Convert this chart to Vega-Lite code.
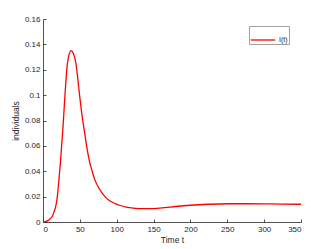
{
  "$schema": "https://vega.github.io/schema/vega-lite/v6.json",
  "autosize": {"type": "none"},
  "width": 258,
  "height": 203,
  "padding": {"left": 43, "top": 19, "right": 31, "bottom": 27},
  "background": "white",
  "config": {
    "view": {"stroke": null},
    "font": "Liberation Sans",
    "axis": {
      "domainColor": "#262626",
      "domainWidth": 0.8,
      "tickColor": "#262626",
      "tickWidth": 0.8,
      "tickSize": -3,
      "labelColor": "#262626",
      "labelFontSize": 8,
      "titleColor": "#262626",
      "titleFontSize": 8.5,
      "titleFontWeight": "normal",
      "grid": false
    }
  },
  "data": {
    "values": [
      {"t": 0, "I": 0, "series": "I(t)"},
      {"t": 3, "I": 0.0003, "series": "I(t)"},
      {"t": 6, "I": 0.0009, "series": "I(t)"},
      {"t": 9, "I": 0.0022, "series": "I(t)"},
      {"t": 12.6, "I": 0.0045, "series": "I(t)"},
      {"t": 15, "I": 0.008, "series": "I(t)"},
      {"t": 17.1, "I": 0.0119, "series": "I(t)"},
      {"t": 19, "I": 0.018, "series": "I(t)"},
      {"t": 20.3, "I": 0.025, "series": "I(t)"},
      {"t": 22, "I": 0.036, "series": "I(t)"},
      {"t": 23.9, "I": 0.0488, "series": "I(t)"},
      {"t": 25.5, "I": 0.062, "series": "I(t)"},
      {"t": 27.1, "I": 0.0745, "series": "I(t)"},
      {"t": 29.8, "I": 0.1, "series": "I(t)"},
      {"t": 32.9, "I": 0.1239, "series": "I(t)"},
      {"t": 35, "I": 0.131, "series": "I(t)"},
      {"t": 38.3, "I": 0.135, "series": "I(t)"},
      {"t": 41, "I": 0.133, "series": "I(t)"},
      {"t": 44.2, "I": 0.1265, "series": "I(t)"},
      {"t": 47, "I": 0.114, "series": "I(t)"},
      {"t": 49.6, "I": 0.1, "series": "I(t)"},
      {"t": 53, "I": 0.084, "series": "I(t)"},
      {"t": 56.9, "I": 0.0686, "series": "I(t)"},
      {"t": 60, "I": 0.057, "series": "I(t)"},
      {"t": 63, "I": 0.048, "series": "I(t)"},
      {"t": 66.6, "I": 0.0402, "series": "I(t)"},
      {"t": 70, "I": 0.0338, "series": "I(t)"},
      {"t": 75.3, "I": 0.0272, "series": "I(t)"},
      {"t": 80, "I": 0.0229, "series": "I(t)"},
      {"t": 84.4, "I": 0.0198, "series": "I(t)"},
      {"t": 90, "I": 0.0169, "series": "I(t)"},
      {"t": 98, "I": 0.0145, "series": "I(t)"},
      {"t": 105, "I": 0.013, "series": "I(t)"},
      {"t": 111.5, "I": 0.0119, "series": "I(t)"},
      {"t": 120, "I": 0.0111, "series": "I(t)"},
      {"t": 130, "I": 0.0106, "series": "I(t)"},
      {"t": 140, "I": 0.0105, "series": "I(t)"},
      {"t": 150, "I": 0.0106, "series": "I(t)"},
      {"t": 165, "I": 0.0113, "series": "I(t)"},
      {"t": 180, "I": 0.0122, "series": "I(t)"},
      {"t": 200, "I": 0.0132, "series": "I(t)"},
      {"t": 225, "I": 0.014, "series": "I(t)"},
      {"t": 250, "I": 0.0144, "series": "I(t)"},
      {"t": 275, "I": 0.0144, "series": "I(t)"},
      {"t": 300, "I": 0.0143, "series": "I(t)"},
      {"t": 325, "I": 0.0141, "series": "I(t)"},
      {"t": 350, "I": 0.014, "series": "I(t)"}
    ]
  },
  "mark": {"type": "line", "strokeWidth": 1.3, "interpolate": "monotone"},
  "encoding": {
    "x": {
      "field": "t", "type": "quantitative",
      "scale": {"domain": [0, 350], "nice": false},
      "axis": {"values": [0, 50, 100, 150, 200, 250, 300, 350], "title": "Time t", "labelPadding": 6, "titlePadding": 2}
    },
    "y": {
      "field": "I", "type": "quantitative",
      "scale": {"domain": [0, 0.16], "nice": false},
      "axis": {"values": [0, 0.02, 0.04, 0.06, 0.08, 0.1, 0.12, 0.14, 0.16], "format": "~g", "title": "individuals", "labelPadding": 6, "titlePadding": 4}
    },
    "color": {
      "field": "series", "type": "nominal",
      "scale": {"range": ["#ff0000"]},
      "legend": {
        "title": null,
        "orient": "none",
        "legendX": 206,
        "legendY": 7,
        "symbolType": "stroke",
        "symbolSize": 600,
        "symbolStrokeWidth": 1.3,
        "strokeColor": "#a0a0a0",
        "fillColor": "white",
        "padding": 1,
        "labelFontSize": 7,
        "labelColor": "#262626",
        "labelOffset": 3
      }
    }
  }
}
